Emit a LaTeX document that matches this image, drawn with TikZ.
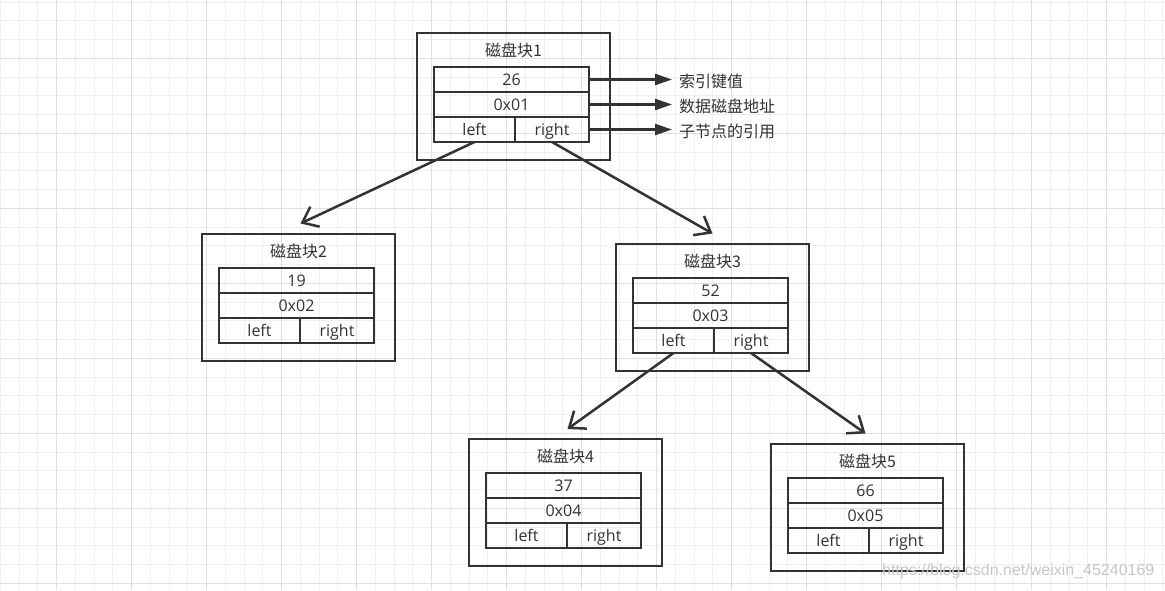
\documentclass[tikz,border=0pt]{standalone}
\usepackage{fontspec}
\setmainfont{Open Sans}
\newfontfamily\cjk{Noto Sans CJK SC}
\newfontfamily\markfont{Liberation Sans}
\usetikzlibrary{arrows.meta,positioning}

\definecolor{ink}{HTML}{333333}
\definecolor{gridminor}{HTML}{EFEFEF}
\definecolor{gridmajor}{HTML}{E0E0E0}

\tikzset{
  blockbox/.style={draw=ink,line width=2.8pt,minimum width=193pt,minimum height=127pt,inner sep=0pt,outer sep=0pt},
  blocktitle/.style={text=ink,inner sep=0pt},
  cell/.style={draw=ink,line width=2.6pt,minimum height=25pt,inner sep=0pt,outer sep=0pt,text=ink,text height=14pt,text depth=1.6pt},
  link/.style={draw=ink,line width=2.5pt,-{Straight Barb[length=14pt,width=22pt,line width=2.5pt]}},
  pointer/.style={draw=ink,line width=2.5pt,-{Triangle[length=17pt,width=11pt]},shorten >=5pt},
  note/.style={text=ink,anchor=west,inner sep=2pt}
}

% one disk block: name, x, y (top left), title, key, address
\newcommand{\diskblock}[6]{%
  \node[blockbox,anchor=north west] (#1) at (#2,#3) {};
  \node[blocktitle] (#1-t) at ([yshift=-17pt]#1.north) {\cjk #4};
  \node[cell,minimum width=155pt,anchor=north west] (#1-k) at ([xshift=17pt,yshift=-34pt]#1.north west) {#5};
  \node[cell,minimum width=155pt,anchor=north] (#1-a) at (#1-k.south) {#6};
  \node[cell,minimum width=81pt,anchor=north west] (#1-l) at (#1-a.south west) {left};
  \node[cell,minimum width=74pt,anchor=north east] (#1-r) at (#1-a.south east) {right};
}

\begin{document}
\begin{tikzpicture}[x=1pt,y=-1pt,font=\fontsize{16}{19}\selectfont]
\useasboundingbox (0,0) rectangle (1165,590);
\fill[white] (0,0) rectangle (1165,590);

% grid
\foreach \i in {0,...,62}
  \draw[gridminor,line width=1pt] ({0.45+18.75*\i},0) -- ++(0,590);
\foreach \j in {0,...,31}
  \draw[gridminor,line width=1pt] (0,{2.05+18.75*\j}) -- ++(1165,0);
\foreach \i in {0,...,15}
  \draw[gridmajor,line width=1pt] ({56.7+75*\i},0) -- ++(0,590);
\foreach \j in {0,...,7}
  \draw[gridmajor,line width=1pt] (0,{58.3+75*\j}) -- ++(1165,0);

\diskblock{b1}{417}{33}{磁盘块1}{26}{0x01}
\diskblock{b2}{202}{234}{磁盘块2}{19}{0x02}
\diskblock{b3}{616}{244}{磁盘块3}{52}{0x03}
\diskblock{b4}{469}{439}{磁盘块4}{37}{0x04}
\diskblock{b5}{771}{444}{磁盘块5}{66}{0x05}

\draw[link] (b1-l.south) -- ([xshift=2pt,yshift=10.5pt]b2.north);
\draw[link] (b1-r.south) -- ([yshift=10.5pt]b3.north);
\draw[link] (b3-l.south) -- ([xshift=2pt,yshift=10pt]b4.north);
\draw[link] (b3-r.south) -- ([xshift=-2pt,yshift=10.5pt]b5.north);

\node[note] (n1) at (677,81) {\cjk 索引键值};
\node[note] (n2) at (677,106) {\cjk 数据磁盘地址};
\node[note] (n3) at (677,131) {\cjk 子节点的引用};
\draw[pointer] (b1-k.east) -- (b1-k.east -| n1.west);
\draw[pointer] (b1-a.east) -- (b1-a.east -| n2.west);
\draw[pointer] (b1-r.east) -- (b1-r.east -| n3.west);

\node[anchor=west,inner sep=0pt,text=black!22,font=\markfont\fontsize{16}{19}\selectfont] (mark) at (882,571) {https://blog.csdn.net/weixin\_45240169};
\end{tikzpicture}
\end{document}
